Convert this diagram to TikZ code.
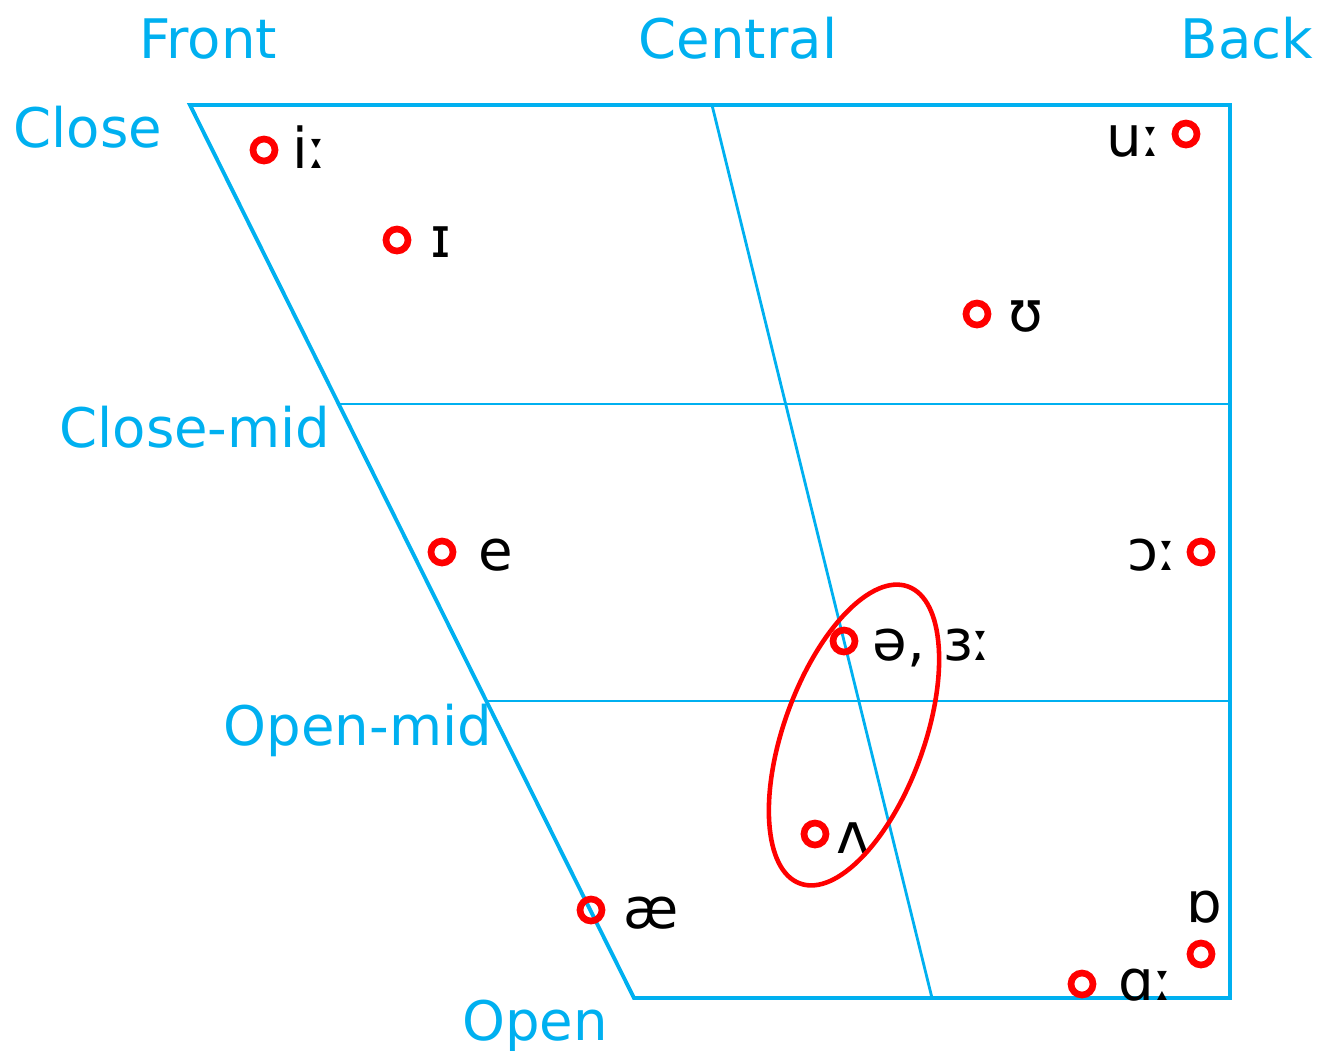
\documentclass[tikz,border=0pt]{standalone}
\usepackage{fontspec}
\setmainfont{DejaVu Sans}
\usepackage{tikz}
\usetikzlibrary{arrows,arrows.meta}
\definecolor{chartblue}{RGB}{0,176,240}

\begin{document}
\begin{tikzpicture}[
x=0.01cm, y=-0.01cm,
chart/.style={draw=chartblue,line width=1.1pt},
grid/.style={draw=chartblue,line width=0.8pt},
heading/.style={text=chartblue,font=\fontsize{15.5}{18}\selectfont,inner sep=0pt,anchor=base},
vowel/.style={circle,draw=red,line width=1.9pt,minimum size=0.22cm,inner sep=0pt},
ipa/.style={font=\fontsize{16}{19}\selectfont,inner sep=0pt,anchor=base west},
ring/.style={draw=red,line width=1.3pt} ]

\useasboundingbox (0,0) rectangle (1320,1050);

% trapezoid
\coordinate (TL) at (190,105);
\coordinate (TR) at (1230,105);
\coordinate (BR) at (1230,998);
\coordinate (BL) at (634,998);
\coordinate (CT) at (712,105);
\coordinate (CB) at (932,998);
\coordinate (CM) at (339,404);
\coordinate (CMR) at (1230,404);
\coordinate (OM) at (487,701);
\coordinate (OMR) at (1230,701);

\draw[chart] (TL) -- (TR) -- (BR) -- (BL) -- cycle;
\draw[grid] (CT) -- (CB);
\draw[grid] (CM) -- (CMR);
\draw[grid] (OM) -- (OMR);

% headings
\node[heading] (front) at (208,58) {Front};
\node[heading] (central) at (738,58) {Central};
\node[heading] (back) at (1247,58) {Back};
\node[heading] (close) at (88,147) {Close};
\node[heading] (closemid) at (195,447) {Close-mid};
\node[heading] (openmid) at (358,745) {Open-mid};
\node[heading] (open) at (535,1040) {Open};

% vowels
\node[vowel] (ii) at (264,150) {};
\node[vowel] (ih) at (397,240) {};
\node[vowel] (uu) at (1186,134) {};
\node[vowel] (uh) at (977,314) {};
\node[vowel] (e) at (442,552) {};
\node[vowel] (oo) at (1201,552) {};
\node[vowel] (schwa) at (844,641) {};
\node[vowel] (wedge) at (815,834) {};
\node[vowel] (ae) at (591,910) {};
\node[vowel] (ob) at (1201,954) {};
\node[vowel] (aa) at (1082,984) {};

\node[ipa] (iiT) at (292,168) {iː};
\node[ipa] (ihT) at (430,257) {ɪ};
\node[ipa,anchor=base east] (uuT) at (1162,156) {uː};
\node[ipa] (uhT) at (1008,331) {ʊ};
\node[ipa] (eT) at (478,570) {e};
\node[ipa,anchor=base east] (ooT) at (1178,570) {ɔː};
\node[ipa] (schwaT) at (872,660) {ə, ɜː};
\node[ipa] (wedgeT) at (836,853) {ʌ};
\node[ipa] (aeT) at (623,928) {æ};
\node[ipa,anchor=base east] (obT) at (1223,922) {ɒ};
\node[ipa] (aaT) at (1118,1000) {ɑː};

\draw[ring,rotate around={70:(854,735)}] (854,735) ellipse [x radius=158, y radius=70];

\end{tikzpicture}
\end{document}
